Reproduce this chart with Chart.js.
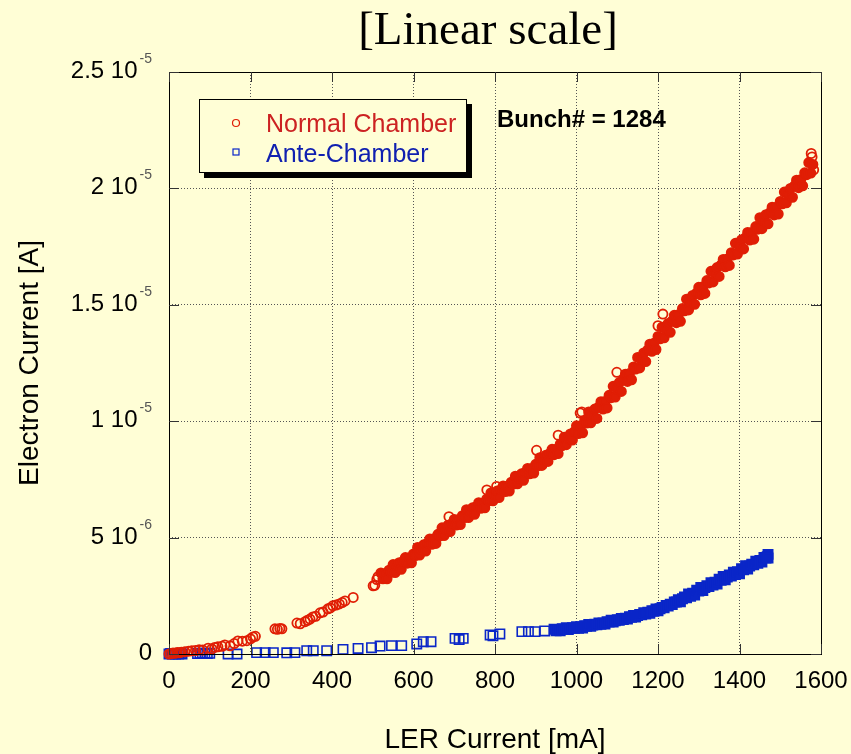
<!DOCTYPE html>
<html>
<head>
<meta charset="utf-8">
<script src="https://cdn.jsdelivr.net/npm/chart.js@4.4.1/dist/chart.umd.min.js"></script>
<style>
  html, body { margin: 0; padding: 0; background: #fffed6; }
</style>
</head>
<body>
<canvas id="c" width="851" height="754"></canvas>
<script>
const chartTitle = '[Linear scale]'
const xTitle = 'LER Current [mA]'
const yTitle = 'Electron Current [A]'
const noteText = 'Bunch# = 1284'
const seriesNames = ['Normal Chamber', 'Ante-Chamber']

const xTicks = [0, 200, 400, 600, 800, 1000, 1200, 1400, 1600]
const yTicks = [0, 5e-6, 1e-5, 1.5e-5, 2e-5, 2.5e-5]
const yTickMantissa = ['0', '5', '1', '1.5', '2', '2.5']
const yTickExponent = ['', '-6', '-5', '-5', '-5', '-5']

// Normal chamber, isolated points: LER current (mA), electron current (1e-6 A)
const normalLooseCurrent = [
  0, 5, 10, 15, 20, 25, 30, 39, 48, 56, 65, 74, 83, 96, 105, 112, 120, 130, 137, 150, 160, 169, 180, 191, 200, 206, 212,
  260, 266, 272, 277, 314, 322, 334, 340, 346, 353, 360, 371, 378, 390, 396, 402, 410, 418, 425, 432, 452,
  501, 505, 510, 513,
  687, 780, 804, 902, 955, 1009, 1013, 1099, 1200, 1212, 1576, 1578, 1582
]
const normalLooseElectron = [
  0, 0.02, 0.04, 0.03, 0.06, 0.05, 0.08, 0.1, 0.12, 0.14, 0.15, 0.18, 0.17, 0.25, 0.22, 0.28, 0.31, 0.33, 0.39, 0.35, 0.45, 0.56, 0.55, 0.57, 0.65, 0.73, 0.76,
  1.08, 1.06, 1.1, 1.08, 1.33, 1.3, 1.39, 1.45, 1.5, 1.59, 1.62, 1.77, 1.8, 1.94, 1.98, 2.07, 2.1, 2.15, 2.21, 2.28, 2.43,
  2.93, 2.95, 3.2, 3.32,
  5.9, 7.05, 7.2, 8.75, 9.4, 10.35, 10.4, 12.1, 14.1, 14.6, 21.5, 21.35, 20.8
]
// Normal chamber, dense band
const normalBandCurrent = [
  520, 525, 530, 535, 540, 545, 550, 555, 560, 565, 570, 575,
  580, 585, 590, 595, 600, 605, 610, 615, 620, 625, 630, 635,
  640, 645, 650, 655, 660, 665, 670, 675, 680, 685, 690, 695,
  700, 705, 710, 715, 720, 725, 730, 735, 740, 745, 750, 755,
  760, 765, 770, 775, 780, 785, 790, 795, 800, 805, 810, 815,
  820, 825, 830, 835, 840, 845, 850, 855, 860, 865, 870, 875,
  880, 885, 890, 895, 900, 905, 910, 915, 920, 925, 930, 935,
  940, 945, 950, 955, 960, 965, 970, 975, 980, 985, 990, 995,
  1000, 1005, 1010, 1015, 1020, 1025, 1030, 1035, 1040, 1045, 1050, 1055,
  1060, 1065, 1070, 1075, 1080, 1085, 1090, 1095, 1100, 1105, 1110, 1115,
  1120, 1125, 1130, 1135, 1140, 1145, 1150, 1155, 1160, 1165, 1170, 1175,
  1180, 1185, 1190, 1195, 1200, 1205, 1210, 1215, 1220, 1225, 1230, 1235,
  1240, 1245, 1250, 1255, 1260, 1265, 1270, 1275, 1280, 1285, 1290, 1295,
  1300, 1305, 1310, 1315, 1320, 1325, 1330, 1335, 1340, 1345, 1350, 1355,
  1360, 1365, 1370, 1375, 1380, 1385, 1390, 1395, 1400, 1405, 1410, 1415,
  1420, 1425, 1430, 1435, 1440, 1445, 1450, 1455, 1460, 1465, 1470, 1475,
  1480, 1485, 1490, 1495, 1500, 1505, 1510, 1515, 1520, 1525, 1530, 1535,
  1540, 1545, 1550, 1555, 1560, 1565, 1570, 1575, 1580
]
const normalBandElectron = [
  3.48, 3.23, 3.45, 3.23, 3.60, 3.51, 3.84, 3.50, 3.74, 3.92, 3.64, 3.98,
  4.14, 3.90, 4.13, 3.92, 4.30, 4.23, 4.58, 4.25, 4.50, 4.69, 4.42, 4.77,
  4.94, 4.71, 4.95, 4.75, 5.14, 5.07, 5.42, 5.09, 5.34, 5.53, 5.26, 5.61,
  5.78, 5.54, 5.77, 5.56, 5.94, 5.86, 6.20, 5.86, 6.10, 6.28, 6.00, 6.34,
  6.50, 6.26, 6.49, 6.28, 6.66, 6.58, 6.92, 6.58, 6.82, 7.00, 6.72, 7.06,
  7.22, 6.98, 7.21, 7.00, 7.38, 7.30, 7.64, 7.31, 7.55, 7.74, 7.46, 7.81,
  7.97, 7.74, 7.97, 7.77, 8.15, 8.08, 8.43, 8.10, 8.35, 8.54, 8.27, 8.62,
  8.79, 8.56, 8.80, 8.61, 9.01, 8.95, 9.31, 8.99, 9.25, 9.45, 9.19, 9.55,
  9.80, 9.47, 9.79, 9.50, 10.03, 9.92, 10.40, 9.93, 10.26, 10.52, 10.12, 10.61,
  10.84, 10.52, 10.85, 10.57, 11.11, 11.01, 11.50, 11.04, 11.38, 11.66, 11.28, 11.78,
  12.02, 11.71, 12.05, 11.78, 12.33, 12.24, 12.74, 12.29, 12.65, 12.93, 12.56, 13.06,
  13.31, 13.00, 13.35, 13.08, 13.64, 13.54, 14.04, 13.58, 13.93, 14.20, 13.82, 14.31,
  14.55, 14.23, 14.57, 14.29, 14.84, 14.74, 15.24, 14.78, 15.13, 15.40, 15.02, 15.51,
  15.75, 15.43, 15.77, 15.49, 16.04, 15.94, 16.44, 15.98, 16.33, 16.60, 16.22, 16.71,
  16.95, 16.63, 16.97, 16.69, 17.24, 17.14, 17.64, 17.18, 17.53, 17.79, 17.40, 17.88,
  18.11, 17.78, 18.11, 17.82, 18.36, 18.25, 18.74, 18.27, 18.61, 18.87, 18.48, 18.96,
  19.19, 18.86, 19.19, 18.90, 19.44, 19.34, 19.84, 19.38, 19.73, 20.00, 19.62, 20.11,
  20.35, 20.03, 20.37, 20.11, 20.67, 20.59, 21.11, 20.66, 21.03
]

// Ante-chamber, isolated points
const anteLooseCurrent = [
  0, 4, 8, 12, 16, 20, 24, 28, 32, 70, 76, 82, 88, 94, 100, 145, 167, 215, 236, 256, 289, 309,
  338, 354, 387, 427, 464, 497, 518, 546, 571, 608, 624, 643, 702, 712, 722, 788, 795, 812, 866, 882, 898, 922
]
const anteLooseElectron = [
  0, 0.02, 0, 0.02, 0, 0.02, 0, 0.02, 0, 0.02, 0.03, 0.02, 0.03, 0.02, 0.03, 0, 0, 0.06, 0.06, 0.06, 0.05, 0.06,
  0.14, 0.14, 0.14, 0.2, 0.24, 0.27, 0.34, 0.36, 0.36, 0.43, 0.53, 0.53, 0.67, 0.62, 0.67, 0.82, 0.78, 0.86, 0.96, 0.96, 0.96, 0.99
]
// Ante-chamber, dense band
const anteBandCurrent = [
  945, 950, 955, 960, 965, 970, 975, 980, 985, 990, 995, 1000,
  1005, 1010, 1015, 1020, 1025, 1030, 1035, 1040, 1045, 1050, 1055, 1060,
  1065, 1070, 1075, 1080, 1085, 1090, 1095, 1100, 1105, 1110, 1115, 1120,
  1125, 1130, 1135, 1140, 1145, 1150, 1155, 1160, 1165, 1170, 1175, 1180,
  1185, 1190, 1195, 1200, 1205, 1210, 1215, 1220, 1225, 1230, 1235, 1240,
  1245, 1250, 1255, 1260, 1265, 1270, 1275, 1280, 1285, 1290, 1295, 1300,
  1305, 1310, 1315, 1320, 1325, 1330, 1335, 1340, 1345, 1350, 1355, 1360,
  1365, 1370, 1375, 1380, 1385, 1390, 1395, 1400, 1405, 1410, 1415, 1420,
  1425, 1430, 1435, 1440, 1445, 1450, 1455, 1460, 1465, 1470, 1468, 1470
]
const anteBandElectron = [
  1.06, 1.00, 1.05, 1.00, 1.09, 1.06, 1.13, 1.05, 1.10, 1.13, 1.10, 1.17,
  1.11, 1.17, 1.12, 1.22, 1.19, 1.27, 1.19, 1.24, 1.28, 1.25, 1.33, 1.28,
  1.33, 1.29, 1.39, 1.37, 1.45, 1.37, 1.43, 1.47, 1.45, 1.53, 1.48, 1.54,
  1.50, 1.60, 1.58, 1.66, 1.59, 1.65, 1.70, 1.68, 1.77, 1.72, 1.79, 1.75,
  1.86, 1.84, 1.93, 1.86, 1.94, 2.00, 1.99, 2.09, 2.06, 2.14, 2.12, 2.23,
  2.23, 2.33, 2.24, 2.37, 2.45, 2.42, 2.58, 2.48, 2.61, 2.53, 2.74, 2.70,
  2.86, 2.73, 2.85, 2.93, 2.90, 3.06, 2.96, 3.08, 3.01, 3.21, 3.17, 3.33,
  3.19, 3.31, 3.39, 3.35, 3.51, 3.41, 3.53, 3.45, 3.66, 3.62, 3.79, 3.65,
  3.78, 3.86, 3.83, 3.99, 3.90, 4.02, 3.95, 4.15, 4.12, 4.28, 4.18, 4.12
]

const bg = '#fffed6'
const red = '#e01e05'
const blue = '#0a26c8'
const sans = '"Liberation Sans", Arial, sans-serif'

function toPoints(xs, ys) {
  return xs.map(function (x, i) { return { x: x, y: ys[i] * 1e-6 } })
}

// dense band points are so packed in the original that they read as solid
function fills(looseCount, bandCount, color) {
  const out = []
  for (let i = 0; i < looseCount; i++) out.push('rgba(0,0,0,0)')
  for (let i = 0; i < bandCount; i++) out.push(color)
  return out
}

// rahmen, ticks nach innen, beschriftung, legende
const decor = {
  id: 'decor',
  beforeDraw(chart) {
    const ctx = chart.ctx
    ctx.save()
    ctx.fillStyle = bg
    ctx.fillRect(0, 0, chart.width, chart.height)
    ctx.restore()
  },
  afterDraw(chart) {
    const ctx = chart.ctx
    const a = chart.chartArea
    const x = chart.scales.x
    const y = chart.scales.y
    ctx.save()

    ctx.strokeStyle = '#000'
    ctx.lineWidth = 1
    ctx.strokeRect(a.left + 0.5, a.top + 0.5, a.right - a.left, a.bottom - a.top)

    ctx.strokeStyle = '#333'
    ctx.beginPath()
    xTicks.forEach(function (v) {
      const px = Math.round(x.getPixelForValue(v)) + 0.5
      ctx.moveTo(px, a.bottom); ctx.lineTo(px, a.bottom - 10)
      ctx.moveTo(px, a.top); ctx.lineTo(px, a.top + 10)
    })
    yTicks.forEach(function (v) {
      const py = Math.round(y.getPixelForValue(v)) + 0.5
      ctx.moveTo(a.left, py); ctx.lineTo(a.left + 10, py)
      ctx.moveTo(a.right, py); ctx.lineTo(a.right - 10, py)
    })
    ctx.stroke()

    // x tick labels
    ctx.fillStyle = '#000'
    ctx.font = '24px ' + sans
    ctx.textAlign = 'center'
    ctx.textBaseline = 'alphabetic'
    xTicks.forEach(function (v) {
      ctx.fillText(String(v), x.getPixelForValue(v), a.bottom + 34)
    })

    // y tick labels with exponent
    const right = a.left - 17
    yTicks.forEach(function (v, i) {
      const py = y.getPixelForValue(v)
      let ew = 0
      if (yTickExponent[i]) {
        ctx.font = '14px ' + sans
        ctx.fillStyle = '#555'
        ctx.textAlign = 'right'
        ew = ctx.measureText(yTickExponent[i]).width
        ctx.fillText(yTickExponent[i], right, py - 9)
      }
      ctx.font = '24px ' + sans
      ctx.fillStyle = '#000'
      ctx.textAlign = 'right'
      const label = yTickExponent[i] ? yTickMantissa[i] + ' 10' : yTickMantissa[i]
      ctx.fillText(label, right - (ew ? ew + 2 : 0), py + 6)
    })

    // axis titles
    ctx.font = '28px ' + sans
    ctx.textAlign = 'center'
    ctx.fillText(xTitle, (a.left + a.right) / 2, 748)
    ctx.save()
    ctx.translate(38, 363)
    ctx.rotate(-Math.PI / 2)
    ctx.fillText(yTitle, 0, 0)
    ctx.restore()

    // title
    ctx.font = '47px "Liberation Serif", "Times New Roman", serif'
    ctx.fillText(chartTitle, 488, 44)

    // legend box with shadow
    ctx.fillStyle = '#000'
    ctx.fillRect(204, 104, 268, 74)
    ctx.fillStyle = bg
    ctx.fillRect(199, 99, 268, 74)
    ctx.strokeStyle = '#000'
    ctx.strokeRect(199.5, 99.5, 267, 73)

    ctx.lineWidth = 1.2
    ctx.strokeStyle = red
    ctx.beginPath()
    ctx.arc(236, 123, 3.5, 0, Math.PI * 2)
    ctx.stroke()
    ctx.strokeStyle = blue
    ctx.strokeRect(233, 149, 6, 6)

    ctx.font = '25px ' + sans
    ctx.textAlign = 'left'
    ctx.fillStyle = '#cc2222'
    ctx.fillText(seriesNames[0], 266, 132)
    ctx.fillStyle = '#1020b0'
    ctx.fillText(seriesNames[1], 266, 162)

    ctx.font = 'bold 24px ' + sans
    ctx.fillStyle = '#000'
    ctx.fillText(noteText, 497, 127)

    ctx.restore()
  }
}

const gridStyle = { color: '#555', lineWidth: 1, drawTicks: false }

const normalPoints = toPoints(normalLooseCurrent, normalLooseElectron).concat(toPoints(normalBandCurrent, normalBandElectron))
const antePoints = toPoints(anteLooseCurrent, anteLooseElectron).concat(toPoints(anteBandCurrent, anteBandElectron))

new Chart(document.getElementById('c'), {
  type: 'scatter',
  data: {
    datasets: [{
      label: seriesNames[0],
      data: normalPoints,
      pointStyle: 'circle',
      pointRadius: 4.6,
      pointBorderWidth: 1.8,
      borderColor: red,
      backgroundColor: fills(normalLooseCurrent.length, normalBandCurrent.length, red),
      clip: false
    }, {
      label: seriesNames[1],
      data: antePoints,
      pointStyle: 'rect',
      pointRadius: 6.6,
      pointBorderWidth: 1.6,
      borderColor: blue,
      backgroundColor: fills(anteLooseCurrent.length, anteBandCurrent.length, blue),
      clip: false
    }]
  },
  options: {
    responsive: false,
    devicePixelRatio: 1,
    animation: false,
    events: [],
    layout: { padding: { left: 169, right: 30, top: 72, bottom: 100 } },
    plugins: {
      legend: { display: false },
      title: { display: false },
      tooltip: { enabled: false }
    },
    scales: {
      x: {
        type: 'linear',
        min: 0,
        max: 1600,
        afterBuildTicks: function (s) { s.ticks = xTicks.map(function (v) { return { value: v } }) },
        afterFit: function (s) { s.height = 0 },
        ticks: { display: false },
        grid: gridStyle,
        border: { display: false, dash: [1, 2] }
      },
      y: {
        type: 'linear',
        min: 0,
        max: 2.5e-5,
        afterBuildTicks: function (s) { s.ticks = yTicks.map(function (v) { return { value: v } }) },
        afterFit: function (s) { s.width = 0 },
        ticks: { display: false },
        grid: gridStyle,
        border: { display: false, dash: [1, 2] }
      }
    }
  },
  plugins: [decor]
})
</script>
</body>
</html>
